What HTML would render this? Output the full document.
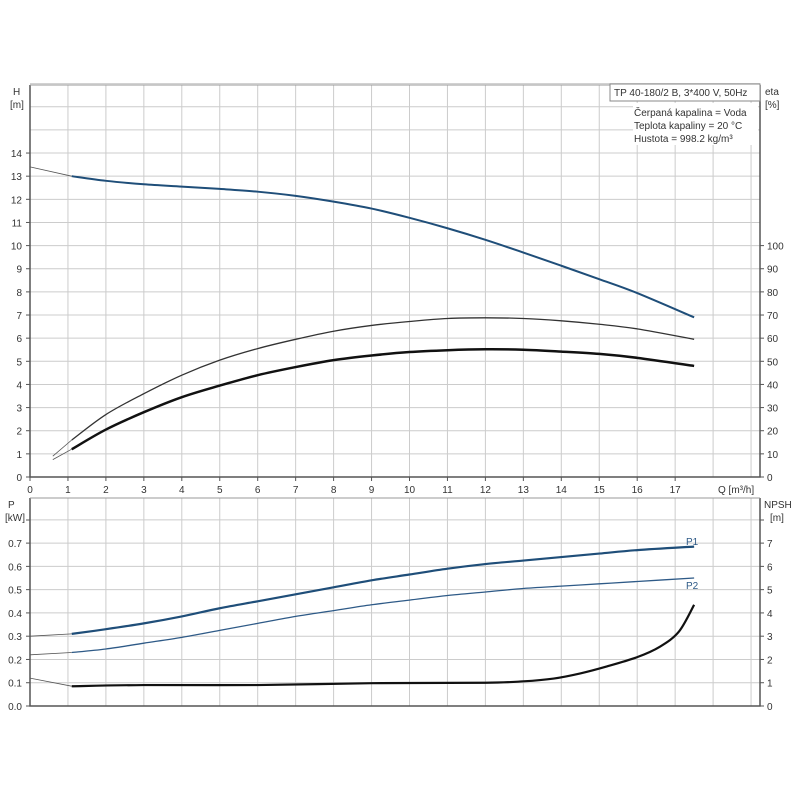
<!DOCTYPE html>
<html><head><meta charset="utf-8"><style>
body{margin:0;background:#fff}
svg text{font-family:"Liberation Sans",sans-serif;font-size:10px;fill:#333}
</style></head><body>
<svg id="s" width="800" height="800" xmlns="http://www.w3.org/2000/svg"></svg>
<script>
const s=document.getElementById('s');
const X0=30,XS=37.95;
let h='';
const X=q=>X0+q*XS;
const YT=v=>477-v*23.14;
const YB=v=>706-v*232.7;
for(let i=1;i<=19;i++)h+=`<line x1="${X(i)}" y1="85" x2="${X(i)}" y2="477" stroke="#ccc"/>`;
for(let i=1;i<=17;i++)h+=`<line x1="30" y1="${YT(i)}" x2="760" y2="${YT(i)}" stroke="#ccc"/>`;
for(let i=1;i<=19;i++)h+=`<line x1="${X(i)}" y1="498" x2="${X(i)}" y2="706" stroke="#ccc"/>`;
for(let i=1;i<=8;i++)h+=`<line x1="30" y1="${YB(i/10)}" x2="760" y2="${YB(i/10)}" stroke="#ccc"/>`;
h+=`<path d="M30 85V477H760V85" fill="none" stroke="#555" stroke-width="1.5"/>`;
h+=`<line x1="30" y1="85" x2="760" y2="85" stroke="#999"/>`;
h+=`<path d="M30 498V706H760V498" fill="none" stroke="#555" stroke-width="1.5"/>`;
h+=`<line x1="30" y1="498" x2="760" y2="498" stroke="#999"/>`;
for(let i=0;i<=14;i++){h+=`<line x1="26" y1="${YT(i)}" x2="30" y2="${YT(i)}" stroke="#555"/><text x="22" y="${YT(i)+4}" text-anchor="end">${i}</text>`;}
for(let i=0;i<=10;i++){h+=`<line x1="760" y1="${YT(i)}" x2="764" y2="${YT(i)}" stroke="#555"/><text x="767" y="${YT(i)+4}">${i*10}</text>`;}
for(let i=0;i<=17;i++){h+=`<line x1="${X(i)}" y1="477" x2="${X(i)}" y2="481" stroke="#555"/><text x="${X(i)}" y="493" text-anchor="middle">${i}</text>`;}
h+=`<text x="718" y="493">Q [m³/h]</text>`;
for(let i=0;i<=7;i++){h+=`<line x1="26" y1="${YB(i/10)}" x2="30" y2="${YB(i/10)}" stroke="#555"/><text x="22" y="${YB(i/10)+4}" text-anchor="end">${(i/10).toFixed(1)}</text>`;
h+=`<line x1="760" y1="${YB(i/10)}" x2="764" y2="${YB(i/10)}" stroke="#555"/><text x="767" y="${YB(i/10)+4}">${i}</text>`;}
h+=`<line x1="26" y1="520" x2="30" y2="520" stroke="#555"/><line x1="760" y1="520" x2="764" y2="520" stroke="#555"/>`;
h+=`<text x="13" y="95">H</text><text x="10" y="108">[m]</text><text x="765" y="95">eta</text><text x="765" y="108">[%]</text>`;
h+=`<text x="8" y="508">P</text><text x="5" y="521">[kW]</text><text x="764" y="508">NPSH</text><text x="770" y="521">[m]</text>`;
h+=`<rect x="610" y="84" width="150" height="17" fill="#fff" stroke="#888"/><text x="614" y="96">TP 40-180/2 B, 3*400 V, 50Hz</text>`;
h+=`<rect x="633" y="103" width="125" height="42" fill="#fff"/><text x="634" y="116">Čerpaná kapalina = Voda</text><text x="634" y="129">Teplota kapaliny = 20 °C</text><text x="634" y="142">Hustota = 998.2 kg/m³</text>`;
function path(pts,fy){let d='';pts.forEach((p,i)=>{d+=(i?'L':'M')+X(p[0]).toFixed(1)+' '+fy(p[1]).toFixed(1)});return d;}
function curve(pts,fy){
 let P=pts.map(p=>[X(p[0]),fy(p[1])]);let d=`M${P[0][0]} ${P[0][1]}`;
 for(let i=0;i<P.length-1;i++){const p0=P[i-1]||P[i],p1=P[i],p2=P[i+1],p3=P[i+2]||p2;
 d+=`C${p1[0]+(p2[0]-p0[0])/6} ${p1[1]+(p2[1]-p0[1])/6} ${p2[0]-(p3[0]-p1[0])/6} ${p2[1]-(p3[1]-p1[1])/6} ${p2[0]} ${p2[1]}`;}return d;}
function draw(thin,thick,fy,col,w){h+=`<path d="${path(thin,fy)}" fill="none" stroke="#555" stroke-width="0.8"/>`;h+=`<path d="${curve(thick,fy)}" fill="none" stroke="${col}" stroke-width="${w}"/>`;}
draw([[0,13.4],[1.1,13.0]],[[1.1,13.0],[2,12.8],[3,12.65],[4,12.55],[5,12.45],[6,12.33],[7,12.15],[8,11.9],[9,11.6],[10,11.2],[11,10.75],[12,10.25],[13,9.7],[14,9.13],[15,8.55],[16,7.95],[17.5,6.9]],YT,'#1f4e79',2);
draw([[0.6,0.9],[1.1,1.6]],[[1.1,1.6],[2,2.7],[3,3.6],[4,4.4],[5,5.05],[6,5.55],[7,5.95],[8,6.3],[9,6.55],[10,6.72],[11,6.85],[12,6.88],[13,6.85],[14,6.75],[15,6.6],[16,6.4],[17.5,5.95]],YT,'#333',1.3);
draw([[0.6,0.75],[1.1,1.2]],[[1.1,1.2],[2,2.05],[3,2.8],[4,3.45],[5,3.95],[6,4.4],[7,4.75],[8,5.05],[9,5.25],[10,5.4],[11,5.48],[12,5.52],[13,5.5],[14,5.42],[15,5.32],[16,5.15],[17.5,4.8]],YT,'#111',2.5);
draw([[0,0.30],[1.1,0.31]],[[1.1,0.31],[2,0.33],[3,0.355],[4,0.385],[5,0.42],[6,0.45],[7,0.48],[8,0.51],[9,0.54],[10,0.565],[11,0.59],[12,0.61],[13,0.625],[14,0.64],[15,0.655],[16,0.67],[17.5,0.685]],YB,'#1f4e79',2.2);
draw([[0,0.22],[1.1,0.23]],[[1.1,0.23],[2,0.245],[3,0.27],[4,0.295],[5,0.325],[6,0.355],[7,0.385],[8,0.41],[9,0.435],[10,0.455],[11,0.475],[12,0.49],[13,0.505],[14,0.515],[15,0.525],[16,0.535],[17.5,0.55]],YB,'#2e5a87',1.3);
draw([[0,0.12],[1.1,0.085]],[[1.1,0.085],[3,0.09],[6,0.09],[9,0.098],[12,0.1],[13,0.106],[13.8,0.118],[14.5,0.14],[15.2,0.17],[16,0.21],[16.6,0.255],[17.1,0.32],[17.5,0.435]],YB,'#111',2.2);
h+=`<text x="686" y="545" style="fill:#2e5a87">P1</text><text x="686" y="589" style="fill:#2e5a87">P2</text>`;
s.innerHTML=h;
</script>
</body></html>
